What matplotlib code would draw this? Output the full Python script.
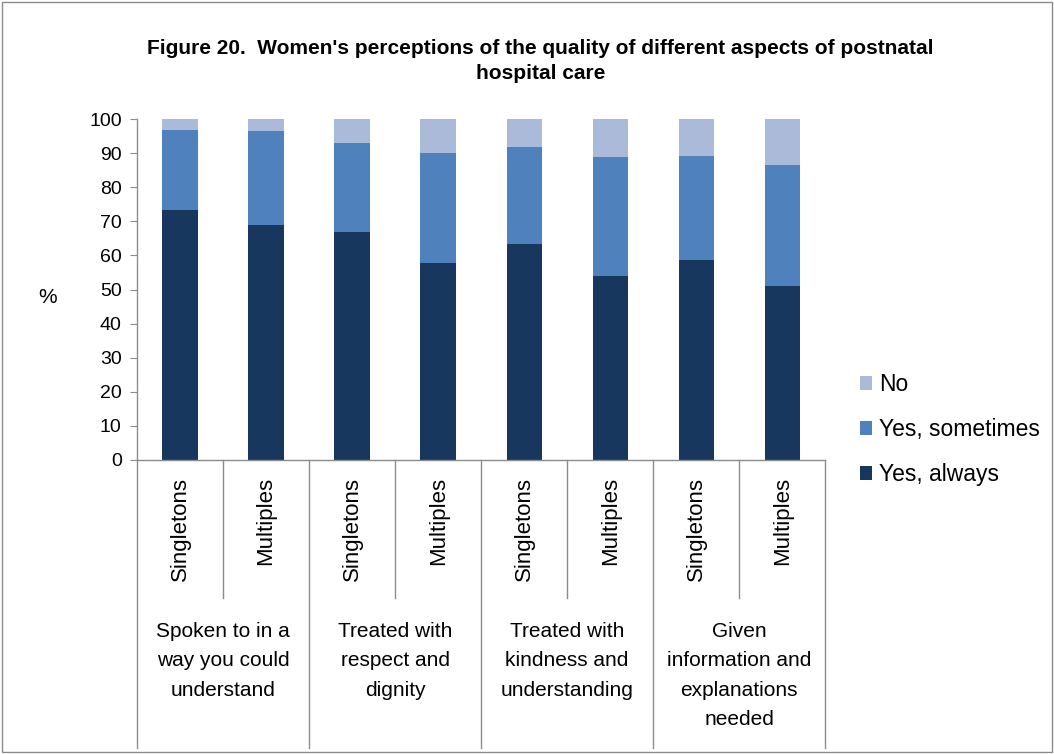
import numpy as np
import matplotlib
matplotlib.use("Agg")
import matplotlib.pyplot as plt
import matplotlib.transforms as mtransforms
from matplotlib.patches import Rectangle

plt.rcParams['font.family'] = ['Liberation Sans', 'DejaVu Sans']

# Data (percent)
groups = ["Spoken to in a\nway you could\nunderstand",
          "Treated with\nrespect and\ndignity",
          "Treated with\nkindness and\nunderstanding",
          "Given\ninformation and\nexplanations\nneeded"]
subcats = ["Singletons", "Multiples"] * 4
yes_always = [73.3, 69.0, 66.8, 57.9, 63.4, 53.9, 58.6, 50.9]
yes_sometimes = [23.4, 27.4, 26.2, 32.2, 28.3, 34.9, 30.5, 35.5]
no = [3.3, 3.6, 7.0, 9.9, 8.3, 11.2, 10.9, 13.6]

col_always = "#17375E"
col_some = "#4F81BD"
col_no = "#AABAD8"
gray = "#8C8C8C"

fig = plt.figure(figsize=(10.54, 7.54), dpi=100)
ax = fig.add_axes([0.130, 0.390, 0.653, 0.452])

x = np.arange(len(subcats))
w = 0.41
b1 = ax.bar(x, yes_always, w, color=col_always, label="Yes, always")
b2 = ax.bar(x, yes_sometimes, w, bottom=yes_always, color=col_some, label="Yes, sometimes")
bot3 = np.array(yes_always) + np.array(yes_sometimes)
b3 = ax.bar(x, no, w, bottom=bot3, color=col_no, label="No")

ax.set_xlim(-0.5, len(subcats) - 0.5)
ax.set_ylim(0, 100)
ax.set_yticks(range(0, 101, 10))
ax.tick_params(axis='y', labelsize=14, length=5, color=gray, pad=6)
ax.set_xticks([])
for s in ['top', 'right']:
    ax.spines[s].set_visible(False)
for s in ['left', 'bottom']:
    ax.spines[s].set_color(gray)
    ax.spines[s].set_linewidth(1)

ax.set_ylabel("%", rotation=0, fontsize=15)
ax.yaxis.set_label_coords(-0.13, 0.45)

# multi-level category axis
trans = mtransforms.blended_transform_factory(ax.transData, ax.transAxes)
for i, lab in enumerate(subcats):
    ax.text(i, -0.05, lab, rotation=90, ha='center', va='top', fontsize=16,
            transform=trans)
for i in range(1, len(subcats), 2):
    ax.plot([i - 0.5, i - 0.5], [0, -0.405], color=gray, lw=1,
            transform=trans, clip_on=False)
for g in range(len(groups) + 1):
    ax.plot([2 * g - 0.5, 2 * g - 0.5], [0, -0.845], color=gray, lw=1,
            transform=trans, clip_on=False)
for g, lab in enumerate(groups):
    ax.text(2 * g + 0.5, -0.475, lab, ha='center', va='top', fontsize=15,
            linespacing=1.7, transform=trans)

fig.text(0.513, 0.919, "Figure 20.  Women's perceptions of the quality of different aspects of postnatal\nhospital care",
         ha='center', va='center', fontsize=15, fontweight='bold', linespacing=1.45)

fig.legend(handles=[b3, b2, b1], labels=["No", "Yes, sometimes", "Yes, always"],
           loc='upper left', bbox_to_anchor=(0.8046, 0.52), frameon=False,
           borderpad=0, fontsize=16.5, handlelength=0.55, handleheight=0.55,
           handletextpad=0.3, labelspacing=0.95)

fig.patches.append(Rectangle((0.002, 0.002), 0.996, 0.996, transform=fig.transFigure,
                             fill=False, edgecolor=gray, lw=1))

fig.savefig("out.png", dpi=100)
